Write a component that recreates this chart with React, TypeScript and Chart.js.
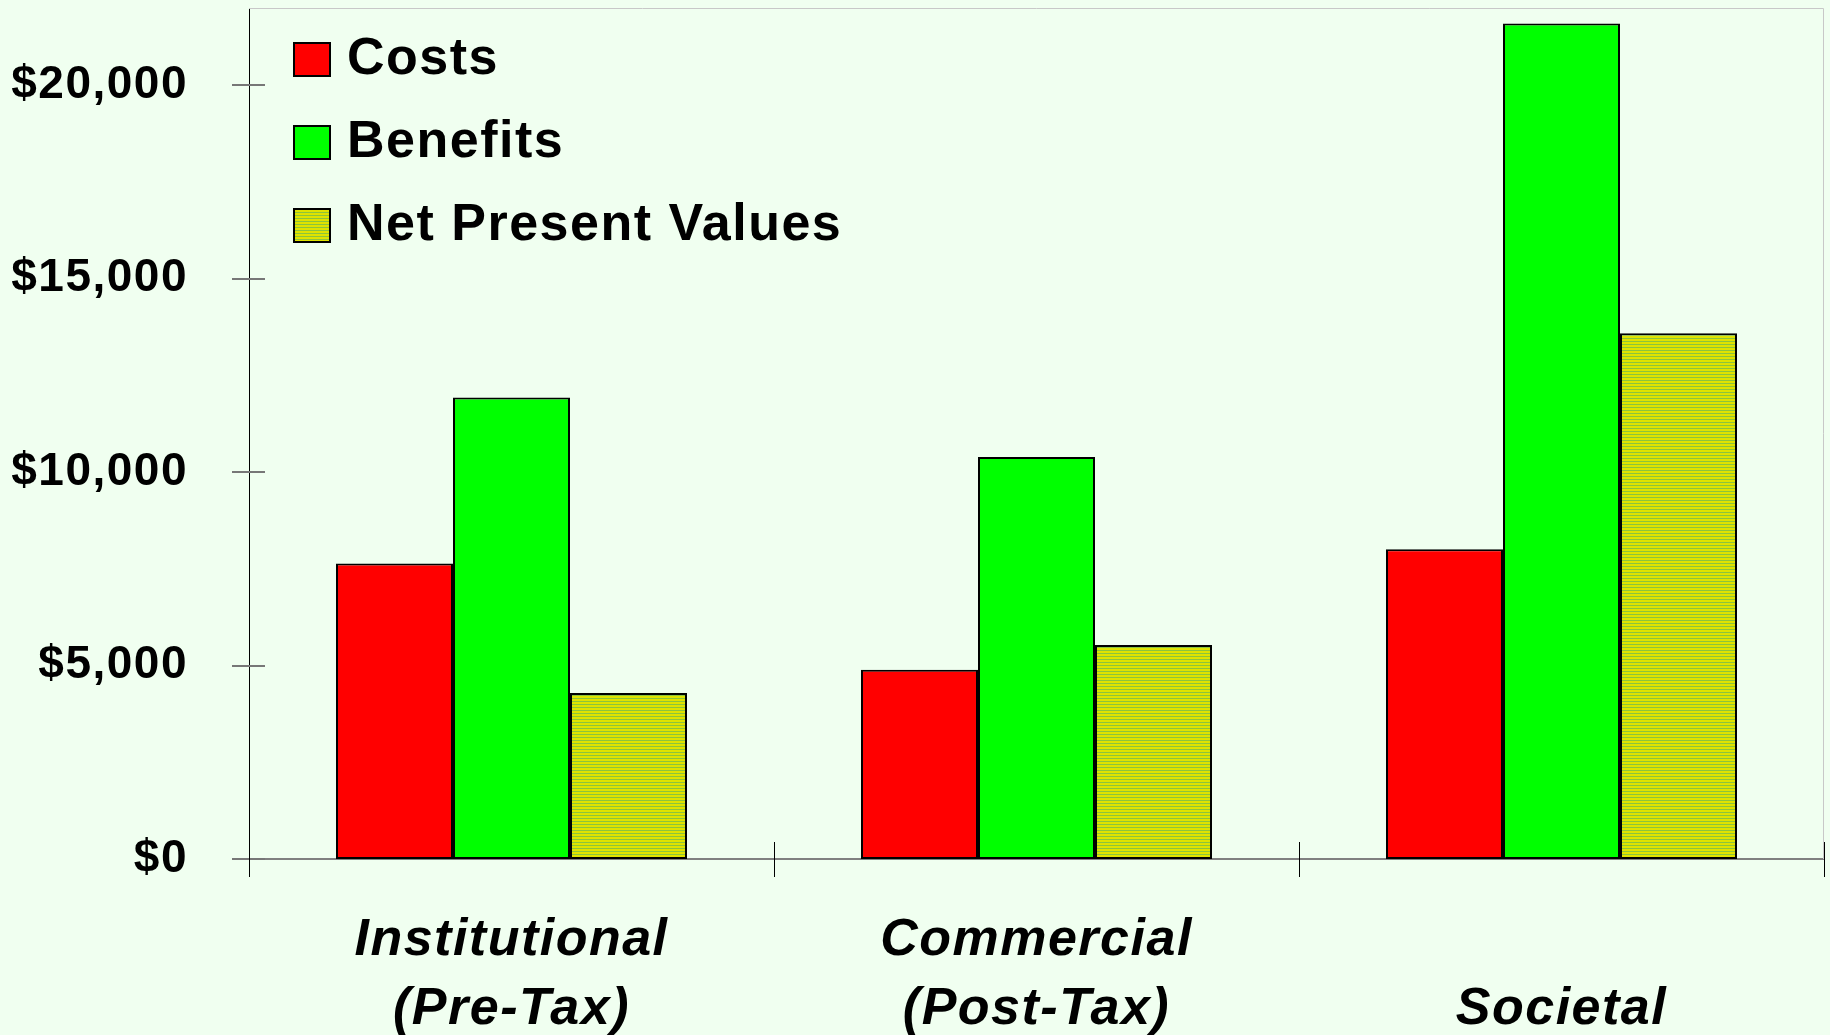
import React, { useEffect, useRef } from "react";
import { Chart, registerables } from "chart.js";
Chart.register(...registerables);

const categories = [["Institutional", "(Pre-Tax)"], ["Commercial", "(Post-Tax)"], ["", "Societal"]];
const seriesNames = ["Costs", "Benefits", "Net Present Values"];
const costs = [7640, 4890, 8010];
const benefits = [11930, 10390, 21600];
const npv = [4290, 5530, 13590];
const yTickValues = [0, 5000, 10000, 15000, 20000];
const yMax = 22000;

const FONT = "'Liberation Sans', Arial, Helvetica, sans-serif";

export default function App() {
  const ref = useRef<HTMLCanvasElement>(null);
  useEffect(() => {
    document.body.style.margin = "0";
    document.body.style.background = "#F0FFF0";
    const canvas = ref.current!;
    const ctx = canvas.getContext("2d")!;
    const pc = document.createElement("canvas");
    pc.width = 4;
    pc.height = 3;
    const pg = pc.getContext("2d")!;
    pg.fillStyle = "#dfe300";
    pg.fillRect(0, 0, 4, 2);
    pg.fillStyle = "#8cc43c";
    pg.fillRect(0, 2, 4, 1);
    const stripes = ctx.createPattern(pc, "repeat")!;

    const decor = {
      id: "decor",
      beforeDraw(chart: any) {
        (chart.ctx as any).letterSpacing = "1.5px";
      },
      beforeDatasetsDraw(chart: any) {
        const { ctx: c, chartArea: a } = chart;
        c.save();
        c.strokeStyle = "#c8c8c8";
        c.lineWidth = 1;
        c.beginPath();
        c.moveTo(a.left, a.top + 0.5);
        c.lineTo(a.right - 0.5, a.top + 0.5);
        c.lineTo(a.right - 0.5, a.bottom);
        c.stroke();
        c.restore();
      },
      afterDatasetsDraw(chart: any) {
        const { ctx: c, chartArea: a } = chart;
        const ys = chart.scales.y;
        const xs = chart.scales.x;
        c.save();
        // y ticks crossing axis
        c.strokeStyle = "#777";
        c.lineWidth = 2;
        for (const t of ys.ticks) {
          const py = Math.round(ys.getPixelForValue(t.value));
          c.beginPath();
          c.moveTo(a.left - 17, py);
          c.lineTo(a.left + 16, py);
          c.stroke();
        }
        // x ticks at category boundaries
        c.strokeStyle = "#000";
        c.lineWidth = 1;
        const n = xs.ticks.length;
        const step = xs.getPixelForValue(1) - xs.getPixelForValue(0);
        for (let i = 0; i <= n; i++) {
          const px = Math.round(xs.getPixelForValue(i) - step / 2) + 0.5;
          c.beginPath();
          c.moveTo(px, a.bottom - 17);
          c.lineTo(px, a.bottom + 18);
          c.stroke();
        }
        // legend
        const ds = chart.data.datasets;
        c.font = "bold 52px " + FONT;
        (c as any).letterSpacing = "1.5px";
        c.textBaseline = "middle";
        c.textAlign = "left";
        ds.forEach((d: any, i: number) => {
          const bx = a.left + 44;
          const by = 42 + i * 83;
          c.fillStyle = d.backgroundColor;
          c.fillRect(bx, by, 38, 35);
          c.strokeStyle = "#000";
          c.lineWidth = 2;
          c.strokeRect(bx + 1, by + 1, 36, 33);
          c.fillStyle = "#000";
          c.fillText(d.label, bx + 54, by + 18);
        });
        c.restore();
      },
    };

    const chart = new Chart(canvas, {
      type: "bar",
      data: {
        labels: categories,
        datasets: [
          { label: seriesNames[0], data: costs, backgroundColor: "#FF0000" },
          { label: seriesNames[1], data: benefits, backgroundColor: "#00FF00" },
          { label: seriesNames[2], data: npv, backgroundColor: stripes as any },
        ].map((d) => ({
          ...d,
          borderColor: "#000",
          borderWidth: 2,
          borderSkipped: false,
          categoryPercentage: 0.6686,
          barPercentage: 1,
        })),
      },
      options: {
        responsive: false,
        animation: false,
        layout: { padding: { top: 8, right: 6, left: 0, bottom: 0 } },
        plugins: { legend: { display: false }, tooltip: { enabled: false } },
        scales: {
          x: {
            offset: true,
            grid: { display: false, drawTicks: false },
            border: { display: true, color: "#808080", width: 2 },
            ticks: {
              padding: 47,
              color: "#000",
              maxRotation: 0,
              autoSkip: false,
              font: { family: FONT, size: 52, weight: "bold", style: "italic", lineHeight: "69px" },
            },
            afterFit: (s: any) => {
              s.height = 176;
              s.paddingLeft = 0;
              s.paddingRight = 0;
            },
          },
          y: {
            min: 0,
            max: yMax,
            afterBuildTicks: (s: any) => {
              s.ticks = yTickValues.map((v) => ({ value: v }));
            },
            grid: { display: false, drawTicks: false },
            border: { display: true, color: "#000", width: 1 },
            ticks: {
              padding: 61,
              color: "#000",
              font: { family: FONT, size: 46, weight: "bold" },
              callback: (v: any) => "$" + Number(v).toLocaleString("en-US"),
            },
            afterFit: (s: any) => {
              s.width = 249;
              s.paddingTop = 0;
              s.paddingBottom = 0;
            },
          },
        },
      },
      plugins: [decor],
    } as any);
    return () => chart.destroy();
  }, []);
  return (
    <div style={{ width: 1830, height: 1035, background: "#F0FFF0", overflow: "hidden" }}>
      <canvas ref={ref} width={1830} height={1035} style={{ display: "block" }} />
    </div>
  );
}
